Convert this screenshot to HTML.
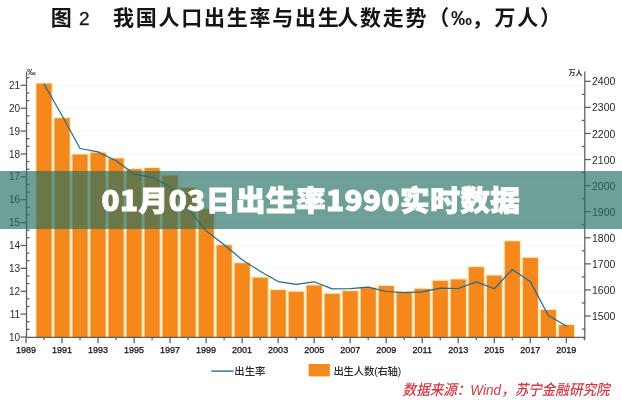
<!DOCTYPE html>
<html lang="zh-CN">
<head>
<meta charset="utf-8">
<title>01月03日出生率1990实时数据</title>
<style>
html,body{margin:0;padding:0;background:#fff;}
body{width:622px;height:400px;overflow:hidden;position:relative;font-family:"Liberation Sans","Noto Sans CJK SC",sans-serif;}
.chart{position:absolute;left:0;top:0;width:622px;height:400px;display:block;}
.band{position:absolute;left:0;top:170.8px;width:622px;height:58.4px;background:rgba(35,111,97,0.66);}
.band h1{margin:0;position:absolute;left:0;right:0;top:0;height:58.4px;line-height:57px;text-align:center;color:#fff;font-size:28px;font-weight:900;letter-spacing:0.4px;font-family:"Noto Sans CJK SC","Liberation Sans",sans-serif;white-space:nowrap;transform:scaleX(1.06);transform-origin:311px 50%;-webkit-text-stroke:0.9px #fff;}
</style>
</head>
<body>
<div class="chart">
<svg width="622" height="400" viewBox="0 0 622 400">
<rect width="622" height="400" fill="#fff"/>
<line x1="26.5" x2="584.8" y1="314.12" y2="314.12" stroke="#f6f6f6" stroke-width="1"/>
<line x1="26.5" x2="584.8" y1="291.24" y2="291.24" stroke="#f6f6f6" stroke-width="1"/>
<line x1="26.5" x2="584.8" y1="268.36" y2="268.36" stroke="#f6f6f6" stroke-width="1"/>
<line x1="26.5" x2="584.8" y1="245.48" y2="245.48" stroke="#f6f6f6" stroke-width="1"/>
<line x1="26.5" x2="584.8" y1="222.60" y2="222.60" stroke="#f6f6f6" stroke-width="1"/>
<line x1="26.5" x2="584.8" y1="199.72" y2="199.72" stroke="#f6f6f6" stroke-width="1"/>
<line x1="26.5" x2="584.8" y1="176.84" y2="176.84" stroke="#f6f6f6" stroke-width="1"/>
<line x1="26.5" x2="584.8" y1="153.96" y2="153.96" stroke="#f6f6f6" stroke-width="1"/>
<line x1="26.5" x2="584.8" y1="131.08" y2="131.08" stroke="#f6f6f6" stroke-width="1"/>
<line x1="26.5" x2="584.8" y1="108.20" y2="108.20" stroke="#f6f6f6" stroke-width="1"/>
<line x1="26.5" x2="584.8" y1="85.32" y2="85.32" stroke="#f6f6f6" stroke-width="1"/>
<g fill="#ffe9b5">
<rect x="35.01" y="82.45" width="18.00" height="256.85"/>
<rect x="53.02" y="117.13" width="18.00" height="222.17"/>
<rect x="71.03" y="153.38" width="18.00" height="185.92"/>
<rect x="89.04" y="151.56" width="18.00" height="187.74"/>
<rect x="107.05" y="157.30" width="18.00" height="182.00"/>
<rect x="125.06" y="167.99" width="18.00" height="171.31"/>
<rect x="143.07" y="166.95" width="18.00" height="172.35"/>
<rect x="161.08" y="174.51" width="18.00" height="164.79"/>
<rect x="179.09" y="186.77" width="18.00" height="152.53"/>
<rect x="197.10" y="208.15" width="18.00" height="131.15"/>
<rect x="215.11" y="244.14" width="18.00" height="95.16"/>
<rect x="233.12" y="262.14" width="18.00" height="77.16"/>
<rect x="251.13" y="276.48" width="18.00" height="62.82"/>
<rect x="269.14" y="289.00" width="18.00" height="50.30"/>
<rect x="287.15" y="290.57" width="18.00" height="48.73"/>
<rect x="305.16" y="284.31" width="18.00" height="54.99"/>
<rect x="323.17" y="292.65" width="18.00" height="46.65"/>
<rect x="341.18" y="290.04" width="18.00" height="49.26"/>
<rect x="359.19" y="286.65" width="18.00" height="52.65"/>
<rect x="377.20" y="284.83" width="18.00" height="54.47"/>
<rect x="395.21" y="290.83" width="18.00" height="48.47"/>
<rect x="413.22" y="287.70" width="18.00" height="51.60"/>
<rect x="431.23" y="279.61" width="18.00" height="59.69"/>
<rect x="449.24" y="278.31" width="18.00" height="60.99"/>
<rect x="467.25" y="266.05" width="18.00" height="73.25"/>
<rect x="485.26" y="274.40" width="18.00" height="64.90"/>
<rect x="503.27" y="240.23" width="18.00" height="99.07"/>
<rect x="521.28" y="256.66" width="18.00" height="82.64"/>
<rect x="539.29" y="308.82" width="18.00" height="30.48"/>
<rect x="557.30" y="323.95" width="18.00" height="15.35"/>
</g>
<g fill="#f6881b" stroke="#dc8a34" stroke-width="0.9">
<rect x="36.96" y="84.10" width="14.10" height="255.20"/>
<rect x="54.97" y="118.78" width="14.10" height="220.52"/>
<rect x="72.98" y="155.03" width="14.10" height="184.27"/>
<rect x="90.99" y="153.21" width="14.10" height="186.09"/>
<rect x="109.00" y="158.95" width="14.10" height="180.35"/>
<rect x="127.01" y="169.64" width="14.10" height="169.66"/>
<rect x="145.02" y="168.60" width="14.10" height="170.70"/>
<rect x="163.03" y="176.16" width="14.10" height="163.14"/>
<rect x="181.04" y="188.42" width="14.10" height="150.88"/>
<rect x="199.05" y="209.80" width="14.10" height="129.50"/>
<rect x="217.06" y="245.79" width="14.10" height="93.51"/>
<rect x="235.07" y="263.79" width="14.10" height="75.51"/>
<rect x="253.08" y="278.13" width="14.10" height="61.17"/>
<rect x="271.09" y="290.65" width="14.10" height="48.65"/>
<rect x="289.10" y="292.22" width="14.10" height="47.08"/>
<rect x="307.11" y="285.96" width="14.10" height="53.34"/>
<rect x="325.12" y="294.30" width="14.10" height="45.00"/>
<rect x="343.13" y="291.69" width="14.10" height="47.61"/>
<rect x="361.14" y="288.30" width="14.10" height="51.00"/>
<rect x="379.15" y="286.48" width="14.10" height="52.82"/>
<rect x="397.16" y="292.48" width="14.10" height="46.82"/>
<rect x="415.17" y="289.35" width="14.10" height="49.95"/>
<rect x="433.18" y="281.26" width="14.10" height="58.04"/>
<rect x="451.19" y="279.96" width="14.10" height="59.34"/>
<rect x="469.20" y="267.70" width="14.10" height="71.60"/>
<rect x="487.21" y="276.05" width="14.10" height="63.25"/>
<rect x="505.22" y="241.88" width="14.10" height="97.42"/>
<rect x="523.23" y="258.31" width="14.10" height="80.99"/>
<rect x="541.24" y="310.47" width="14.10" height="28.83"/>
<rect x="559.25" y="325.60" width="14.10" height="13.70"/>
</g>
<rect x="26.5" y="337.3" width="558.3" height="6" fill="#fff"/>
<polyline points="44.01,83.95 62.02,115.52 80.03,148.47 98.04,151.90 116.05,160.82 134.06,174.09 152.07,177.30 170.08,186.68 188.09,207.96 206.10,230.84 224.11,244.79 242.12,259.67 260.13,271.26 278.14,281.56 296.15,284.30 314.16,281.79 332.17,288.88 350.18,288.65 368.19,287.14 386.20,291.48 404.21,292.63 422.22,291.94 440.23,288.05 458.24,288.51 476.25,281.87 494.26,288.74 512.27,269.50 530.28,281.40 548.29,315.49 566.30,326.02" fill="none" stroke="#2a6783" stroke-width="1.2" stroke-linejoin="round" stroke-linecap="round"/>
<g stroke="#5e5e5e" stroke-width="1.25" fill="none">
<line x1="26.5" x2="26.5" y1="71.5" y2="337.90000000000003"/>
<line x1="584.8" x2="584.8" y1="71.5" y2="339.3"/>
<line x1="26.0" x2="584.8" y1="337.3" y2="337.3" stroke-width="1.3"/>
<line x1="20.5" x2="26.5" y1="337.00" y2="337.00"/>
<line x1="20.5" x2="26.5" y1="314.12" y2="314.12"/>
<line x1="20.5" x2="26.5" y1="291.24" y2="291.24"/>
<line x1="20.5" x2="26.5" y1="268.36" y2="268.36"/>
<line x1="20.5" x2="26.5" y1="245.48" y2="245.48"/>
<line x1="20.5" x2="26.5" y1="222.60" y2="222.60"/>
<line x1="20.5" x2="26.5" y1="199.72" y2="199.72"/>
<line x1="20.5" x2="26.5" y1="176.84" y2="176.84"/>
<line x1="20.5" x2="26.5" y1="153.96" y2="153.96"/>
<line x1="20.5" x2="26.5" y1="131.08" y2="131.08"/>
<line x1="20.5" x2="26.5" y1="108.20" y2="108.20"/>
<line x1="20.5" x2="26.5" y1="85.32" y2="85.32"/>
<line x1="26.5" x2="29.5" y1="329.37" y2="329.37"/>
<line x1="26.5" x2="29.5" y1="321.75" y2="321.75"/>
<line x1="26.5" x2="29.5" y1="306.49" y2="306.49"/>
<line x1="26.5" x2="29.5" y1="298.87" y2="298.87"/>
<line x1="26.5" x2="29.5" y1="283.61" y2="283.61"/>
<line x1="26.5" x2="29.5" y1="275.99" y2="275.99"/>
<line x1="26.5" x2="29.5" y1="260.73" y2="260.73"/>
<line x1="26.5" x2="29.5" y1="253.11" y2="253.11"/>
<line x1="26.5" x2="29.5" y1="237.85" y2="237.85"/>
<line x1="26.5" x2="29.5" y1="230.23" y2="230.23"/>
<line x1="26.5" x2="29.5" y1="214.97" y2="214.97"/>
<line x1="26.5" x2="29.5" y1="207.35" y2="207.35"/>
<line x1="26.5" x2="29.5" y1="192.09" y2="192.09"/>
<line x1="26.5" x2="29.5" y1="184.47" y2="184.47"/>
<line x1="26.5" x2="29.5" y1="169.21" y2="169.21"/>
<line x1="26.5" x2="29.5" y1="161.59" y2="161.59"/>
<line x1="26.5" x2="29.5" y1="146.33" y2="146.33"/>
<line x1="26.5" x2="29.5" y1="138.71" y2="138.71"/>
<line x1="26.5" x2="29.5" y1="123.45" y2="123.45"/>
<line x1="26.5" x2="29.5" y1="115.83" y2="115.83"/>
<line x1="26.5" x2="29.5" y1="100.57" y2="100.57"/>
<line x1="26.5" x2="29.5" y1="92.95" y2="92.95"/>
<line x1="26.5" x2="29.5" y1="77.69" y2="77.69"/>
<line x1="584.8" x2="590.8" y1="316.02" y2="316.02"/>
<line x1="584.8" x2="590.8" y1="289.94" y2="289.94"/>
<line x1="584.8" x2="590.8" y1="263.86" y2="263.86"/>
<line x1="584.8" x2="590.8" y1="237.78" y2="237.78"/>
<line x1="584.8" x2="590.8" y1="211.70" y2="211.70"/>
<line x1="584.8" x2="590.8" y1="185.62" y2="185.62"/>
<line x1="584.8" x2="590.8" y1="159.54" y2="159.54"/>
<line x1="584.8" x2="590.8" y1="133.46" y2="133.46"/>
<line x1="584.8" x2="590.8" y1="107.38" y2="107.38"/>
<line x1="584.8" x2="590.8" y1="81.30" y2="81.30"/>
<line x1="581.8" x2="584.8" y1="329.06" y2="329.06"/>
<line x1="581.8" x2="584.8" y1="302.98" y2="302.98"/>
<line x1="581.8" x2="584.8" y1="276.90" y2="276.90"/>
<line x1="581.8" x2="584.8" y1="250.82" y2="250.82"/>
<line x1="581.8" x2="584.8" y1="224.74" y2="224.74"/>
<line x1="581.8" x2="584.8" y1="198.66" y2="198.66"/>
<line x1="581.8" x2="584.8" y1="172.58" y2="172.58"/>
<line x1="581.8" x2="584.8" y1="146.50" y2="146.50"/>
<line x1="581.8" x2="584.8" y1="120.42" y2="120.42"/>
<line x1="581.8" x2="584.8" y1="94.34" y2="94.34"/>
<line x1="26.00" x2="26.00" y1="337.3" y2="343.3"/>
<line x1="44.01" x2="44.01" y1="337.3" y2="340.3"/>
<line x1="62.02" x2="62.02" y1="337.3" y2="343.3"/>
<line x1="80.03" x2="80.03" y1="337.3" y2="340.3"/>
<line x1="98.04" x2="98.04" y1="337.3" y2="343.3"/>
<line x1="116.05" x2="116.05" y1="337.3" y2="340.3"/>
<line x1="134.06" x2="134.06" y1="337.3" y2="343.3"/>
<line x1="152.07" x2="152.07" y1="337.3" y2="340.3"/>
<line x1="170.08" x2="170.08" y1="337.3" y2="343.3"/>
<line x1="188.09" x2="188.09" y1="337.3" y2="340.3"/>
<line x1="206.10" x2="206.10" y1="337.3" y2="343.3"/>
<line x1="224.11" x2="224.11" y1="337.3" y2="340.3"/>
<line x1="242.12" x2="242.12" y1="337.3" y2="343.3"/>
<line x1="260.13" x2="260.13" y1="337.3" y2="340.3"/>
<line x1="278.14" x2="278.14" y1="337.3" y2="343.3"/>
<line x1="296.15" x2="296.15" y1="337.3" y2="340.3"/>
<line x1="314.16" x2="314.16" y1="337.3" y2="343.3"/>
<line x1="332.17" x2="332.17" y1="337.3" y2="340.3"/>
<line x1="350.18" x2="350.18" y1="337.3" y2="343.3"/>
<line x1="368.19" x2="368.19" y1="337.3" y2="340.3"/>
<line x1="386.20" x2="386.20" y1="337.3" y2="343.3"/>
<line x1="404.21" x2="404.21" y1="337.3" y2="340.3"/>
<line x1="422.22" x2="422.22" y1="337.3" y2="343.3"/>
<line x1="440.23" x2="440.23" y1="337.3" y2="340.3"/>
<line x1="458.24" x2="458.24" y1="337.3" y2="343.3"/>
<line x1="476.25" x2="476.25" y1="337.3" y2="340.3"/>
<line x1="494.26" x2="494.26" y1="337.3" y2="343.3"/>
<line x1="512.27" x2="512.27" y1="337.3" y2="340.3"/>
<line x1="530.28" x2="530.28" y1="337.3" y2="343.3"/>
<line x1="548.29" x2="548.29" y1="337.3" y2="340.3"/>
<line x1="566.30" x2="566.30" y1="337.3" y2="343.3"/>
<line x1="584.31" x2="584.31" y1="337.3" y2="340.3"/>
</g>
<g font-family="'Liberation Sans', sans-serif" fill="#2a2a2a">
<g font-size="10" text-anchor="end">
<text x="20.2" y="340.60">10</text>
<text x="20.2" y="317.72">11</text>
<text x="20.2" y="294.84">12</text>
<text x="20.2" y="271.96">13</text>
<text x="20.2" y="249.08">14</text>
<text x="20.2" y="226.20">15</text>
<text x="20.2" y="203.32">16</text>
<text x="20.2" y="180.44">17</text>
<text x="20.2" y="157.56">18</text>
<text x="20.2" y="134.68">19</text>
<text x="20.2" y="111.80">20</text>
<text x="20.2" y="88.92">21</text>
</g>
<g font-size="10.5" text-anchor="start">
<text x="592.0" y="320.12">1500</text>
<text x="592.0" y="294.04">1600</text>
<text x="592.0" y="267.96">1700</text>
<text x="592.0" y="241.88">1800</text>
<text x="592.0" y="215.80">1900</text>
<text x="592.0" y="189.72">2000</text>
<text x="592.0" y="163.64">2100</text>
<text x="592.0" y="137.56">2200</text>
<text x="592.0" y="111.48">2300</text>
<text x="592.0" y="85.40">2400</text>
</g>
<g font-size="9" text-anchor="middle" fill="#111" stroke="#111" stroke-width="0.25">
<text x="26.00" y="353">1989</text>
<text x="62.02" y="353">1991</text>
<text x="98.04" y="353">1993</text>
<text x="134.06" y="353">1995</text>
<text x="170.08" y="353">1997</text>
<text x="206.10" y="353">1999</text>
<text x="242.12" y="353">2001</text>
<text x="278.14" y="353">2003</text>
<text x="314.16" y="353">2005</text>
<text x="350.18" y="353">2007</text>
<text x="386.20" y="353">2009</text>
<text x="422.22" y="353">2011</text>
<text x="458.24" y="353">2013</text>
<text x="494.26" y="353">2015</text>
<text x="530.28" y="353">2017</text>
<text x="566.30" y="353">2019</text>
</g>
</g>
<text x="27.3" y="74.6" font-family="'Liberation Sans', sans-serif" font-weight="bold" font-size="8.5" fill="#2a2a2a">‰</text>
<text x="582.6" y="74.8" text-anchor="end" font-weight="bold" font-family="'Liberation Sans', 'Noto Sans CJK SC', sans-serif" font-size="7" fill="#2a2a2a">万人</text>
<line x1="211.3" x2="233.6" y1="371.1" y2="371.1" stroke="#2f6f8c" stroke-width="1.4"/>
<text x="234.3" y="375" font-family="'Liberation Sans', 'Noto Sans CJK SC', sans-serif" font-size="10.4" font-weight="500" fill="#2a2a2a">出生率</text>
<rect x="308.6" y="364" width="21.2" height="12.4" fill="#f58a1c"/>
<text x="333.4" y="375" font-family="'Liberation Sans', 'Noto Sans CJK SC', sans-serif" font-size="10.4" font-weight="500" letter-spacing="-0.2" fill="#2a2a2a">出生人数(右轴)</text>
<text x="402.6" y="395.2" textLength="207" lengthAdjust="spacingAndGlyphs" font-family="'Liberation Sans', 'Noto Sans CJK SC', sans-serif" font-size="14.8" font-style="italic" font-weight="500" fill="#d23a45">数据来源：Wind，苏宁金融研究院</text>
<g font-family="'Liberation Sans', 'Noto Sans CJK SC', sans-serif" font-size="21" font-weight="700" fill="#151515">
<text x="50.8" y="25.4">图</text><text x="79" y="25.3" font-size="19" font-weight="400" stroke="#1c1c1c" stroke-width="0.3">2</text>
<text x="113.0" y="25.4" letter-spacing="1.75">我国人口出生率与出生</text>
<text x="337.3" y="25.4" letter-spacing="1.75">人数走势（‰</text>
<text x="471.8" y="25.4" letter-spacing="1.75">，万人）</text>
</g>
</svg>
</div>
<div class="band"><h1>01月03日出生率1990实时数据</h1></div>
</body>
</html>
